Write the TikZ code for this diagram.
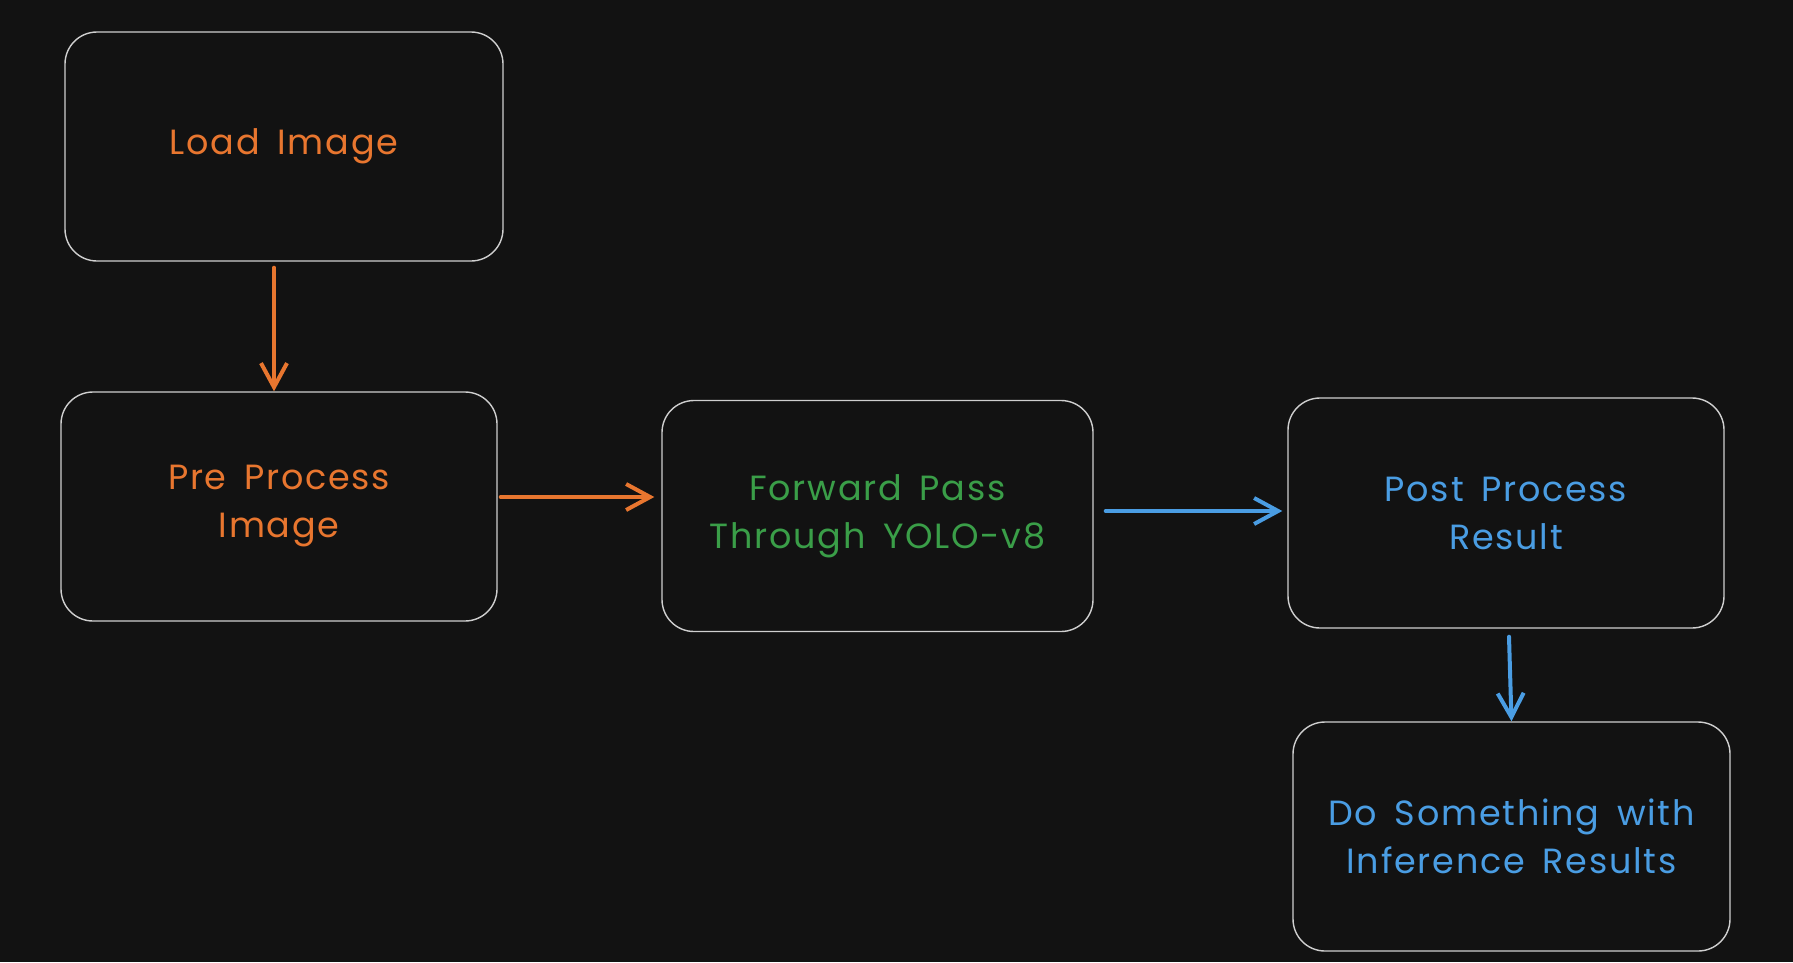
\documentclass[tikz,border=0pt]{standalone}
\usepackage{fontspec}
\setmainfont[LetterSpace=5,WordSpace=1.6]{Poppins}
\usetikzlibrary{arrows.meta}
\definecolor{bg}{HTML}{121212}
\definecolor{edge}{HTML}{CFCFCF}
\definecolor{ora}{HTML}{E8762F}
\definecolor{grn}{HTML}{3A9E48}
\definecolor{blu}{HTML}{4A9DE3}
\tikzset{
  boxnode/.style={draw=edge, line width=1.4pt, rounded corners=32pt, fill=bg, inner sep=0pt, align=center,
    font=\fontsize{35}{48}\selectfont},
  conn/.style={line width=4pt, line cap=round, -{Straight Barb[length=24pt,width=26pt,line width=4pt]}},
}
\begin{document}
\begin{tikzpicture}[x=1pt,y=-1pt]
\fill[bg] (0,0) rectangle (1793,962);
\useasboundingbox (0,0) rectangle (1793,962);
\node[boxnode, text=ora, minimum width=438pt, minimum height=229pt] (load) at (284,146.5) {Load Image};
\node[boxnode, text=ora, minimum width=436pt, minimum height=229pt] (pre) at (279,506.5) {Pre Process\\Image};
\node[boxnode, text=grn, minimum width=431pt, minimum height=231pt] (fwd) at (877.5,516) {Forward Pass\\Through YOLO-v8};
\node[boxnode, text=blu, minimum width=436pt, minimum height=230pt] (post) at (1506,513) {Post Process\\Result};
\node[boxnode, text=blu, minimum width=437pt, minimum height=229pt] (do) at (1511.5,836.5) {Do Something with\\Inference Results};
\draw[conn, draw=ora] ([xshift=-10pt,yshift=-6pt]load.south) -- ([xshift=-10pt]pre.north -| load.south);
\draw[conn, draw=ora] ([xshift=3pt,yshift=9.5pt]pre.east) -- ([xshift=-7pt,yshift=9.5pt]pre.east -| fwd.west);
\draw[conn, draw=blu] ([xshift=12pt,yshift=5pt]fwd.east) -- ([xshift=-5pt,yshift=5pt]fwd.east -| post.west);
\draw[conn, draw=blu] ([xshift=3pt,yshift=-8pt]post.south) -- (do.north);
\end{tikzpicture}
\end{document}
